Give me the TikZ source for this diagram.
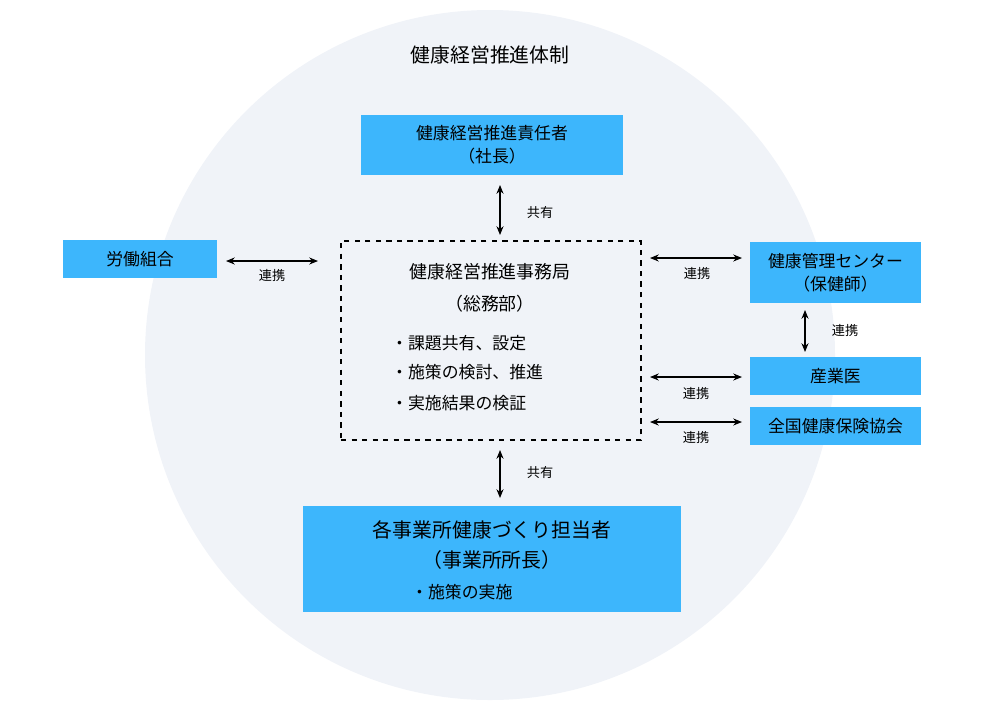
\documentclass[tikz,border=0pt]{standalone}
\usepackage{fontspec}
\setmainfont{Noto Sans CJK JP}
\usetikzlibrary{arrows.meta}
\definecolor{bg}{HTML}{F0F3F8}
\definecolor{bx}{HTML}{3DB6FC}
\begin{document}
\begin{tikzpicture}[x=0.02cm,y=-0.02cm,
  box/.style={fill=bx,draw=none,inner sep=0pt,align=center},
  lnk/.style={{Stealth[length=5pt,width=4pt]}-{Stealth[length=5pt,width=4pt]},line width=0.6pt},
  lab/.style={font=\fontsize{7.5}{9}\selectfont},
  txt/.style={font=\fontsize{9.6}{13}\selectfont}]
\useasboundingbox (0,0) rectangle (1000,707);
\clip (0,0) rectangle (1000,707);
\fill[bg] (490,355) circle (345*0.02cm);
\node[font=\fontsize{11.3}{13}\selectfont] (title) at (490,55) {健康経営推進体制};
\node[box,minimum width=262*0.02cm,minimum height=60*0.02cm,txt] (top) at (492,145) {健康経営推進責任者\\（社長）};
\node[draw,dashed,line width=0.6pt,minimum width=300*0.02cm,minimum height=199*0.02cm,inner sep=0pt] (mid) at (491,340.5) {};
\node[font=\fontsize{10.2}{13}\selectfont] (m1) at (490,272) {健康経営推進事務局};
\node[font=\fontsize{10.2}{13}\selectfont] (m2) at (490,304) {（総務部）};
\node[txt,anchor=west] (b1) at (385,343) {・課題共有、設定};
\node[txt,anchor=west] (b2) at (385,372) {・施策の検討、推進};
\node[txt,anchor=west] (b3) at (385,403) {・実施結果の検証};
\node[box,minimum width=378*0.02cm,minimum height=106*0.02cm] (bot) at (492,559) {};
\node[font=\fontsize{11.3}{13}\selectfont] (bt1) at (492,530) {各事業所健康づくり担当者};
\node[font=\fontsize{11.3}{13}\selectfont] (bt2) at (492,560) {（事業所所長）};
\node[txt,anchor=west] (bt3) at (405,592) {・施策の実施};
\node[box,minimum width=154*0.02cm,minimum height=38*0.02cm,txt] (left) at (140,259) {労働組合};
\node[box,minimum width=171*0.02cm,minimum height=61*0.02cm,txt] (r1) at (835.5,272.5) {健康管理センター\\（保健師）};
\node[box,minimum width=171*0.02cm,minimum height=38*0.02cm,txt] (r2) at (835.5,376) {産業医};
\node[box,minimum width=171*0.02cm,minimum height=38*0.02cm,txt] (r3) at (835.5,426) {全国健康保険協会};
\coordinate (a1) at (500,185); \coordinate (a2) at (500,235);
\draw[lnk] (a1) -- (a2); \node[lab] (l1) at (540,212) {共有};
\coordinate (a3) at (500,450); \coordinate (a4) at (500,498);
\draw[lnk] (a3) -- (a4); \node[lab] (l2) at (540,472) {共有};
\coordinate (a5) at (226,261); \coordinate (a6) at (318,261);
\draw[lnk] (a5) -- (a6); \node[lab] (l3) at (272,275) {連携};
\coordinate (a7) at (650,258); \coordinate (a8) at (742,258);
\draw[lnk] (a7) -- (a8); \node[lab] (l4) at (697,273) {連携};
\coordinate (a9) at (805,310); \coordinate (a10) at (805,352);
\draw[lnk] (a9) -- (a10); \node[lab] (l5) at (845,330) {連携};
\coordinate (a11) at (650,377); \coordinate (a12) at (742,377);
\draw[lnk] (a11) -- (a12); \node[lab] (l6) at (696,393) {連携};
\coordinate (a13) at (650,422); \coordinate (a14) at (742,422);
\draw[lnk] (a13) -- (a14); \node[lab] (l7) at (696,437) {連携};
\end{tikzpicture}
\end{document}
